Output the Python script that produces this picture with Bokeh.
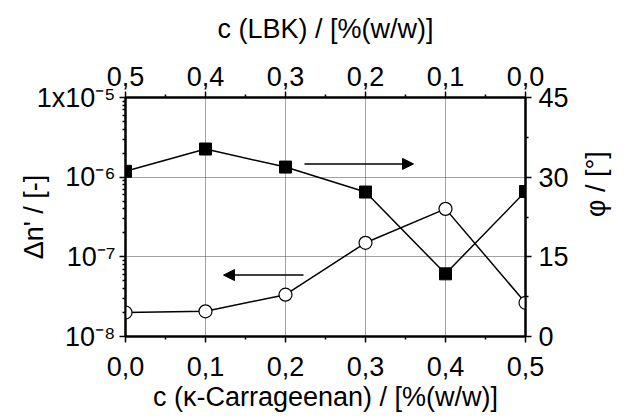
import math
from bokeh.plotting import figure
from bokeh.models import Range1d, LinearAxis, FixedTicker, Arrow, NormalHead, ColumnDataSource, LinearScale
from bokeh.embed import file_html
from bokeh.resources import INLINE

# data
conc_carrageenan = [0.0, 0.1, 0.2, 0.3, 0.4, 0.5]
delta_n = [2.0e-8, 2.07e-8, 3.35e-8, 1.5e-7, 4.0e-7, 2.65e-8]
phi_deg = [31.1, 35.3, 31.9, 27.2, 11.8, 27.3]

x_ticks = [0.0, 0.1, 0.2, 0.3, 0.4, 0.5]
x_tick_labels = ["0,0", "0,1", "0,2", "0,3", "0,4", "0,5"]
top_tick_labels = ["0,0", "0,1", "0,2", "0,3", "0,4", "0,5"]  # LBK, reversed axis
left_ticks = [1e-8, 1e-7, 1e-6, 1e-5]
left_tick_labels = ["10\u207b\u2078", "10\u207b\u2077", "10\u207b\u2076", "1x10\u207b\u2075"]
right_ticks = [0, 15, 30, 45]
right_tick_labels = ["0", "15", "30", "45"]

# arrows (start x, end x, y)
arrow_left = (0.2225, 0.1225, 5.9e-8)
arrow_right = (0.2237, 0.36, 32.5)

FONT = "Liberation Sans"
TICK_SIZE = "27px"
LABEL_SIZE = "27px"

p = figure(frame_width=400, frame_height=239, x_range=Range1d(0, 0.5), y_range=Range1d(1e-8, 1e-5),
           y_axis_type="log", output_backend="svg", toolbar_location=None,
           min_border_left=125, min_border_right=0, min_border_top=97, min_border_bottom=0)
p.extra_x_ranges = {"lbk": Range1d(0.5, 0.0)}
p.extra_x_scales = {"lbk": LinearScale()}
p.extra_y_ranges = {"phi": Range1d(0, 45)}
p.extra_y_scales = {"phi": LinearScale()}

p.outline_line_color = "black"
p.outline_line_width = 2
p.background_fill_color = "white"
p.border_fill_color = "white"

def style_axis(ax):
    ax.axis_line_width = 2
    ax.major_tick_line_width = 1.5
    ax.minor_tick_line_width = 1.5
    ax.major_tick_out = 6
    ax.major_tick_in = 0
    ax.minor_tick_out = 3
    ax.minor_tick_in = 0
    ax.major_label_standoff = 4
    ax.major_label_text_font = FONT
    ax.major_label_text_font_size = TICK_SIZE
    ax.major_label_text_color = "black"
    ax.axis_label_text_font = FONT
    ax.axis_label_text_font_size = LABEL_SIZE
    ax.axis_label_text_font_style = "normal"
    ax.axis_label_text_color = "black"

# bottom
xb = p.xaxis[0]
xb.ticker = FixedTicker(ticks=x_ticks, minor_ticks=[0.05, 0.15, 0.25, 0.35, 0.45])
xb.major_label_overrides = dict(zip(x_ticks, x_tick_labels))
xb.axis_label = "c (\u03ba-Carrageenan) / [%(w/w)]"
style_axis(xb)
xb.major_label_standoff = 14
xb.axis_label_standoff = 3

# left
yl = p.yaxis[0]
yl.ticker = FixedTicker(ticks=left_ticks,
                        minor_ticks=[m * 10.0 ** e for e in (-8, -7, -6) for m in range(2, 10)])
yl.major_label_overrides = dict(zip(left_ticks, left_tick_labels))
yl.axis_label = "\u0394n' / [-]"
style_axis(yl)
yl.axis_label_standoff = -15

# top
xt = LinearAxis(x_range_name="lbk", axis_label="c (LBK) / [%(w/w)]")
xt.ticker = FixedTicker(ticks=x_ticks, minor_ticks=[0.05, 0.15, 0.25, 0.35, 0.45])
xt.major_label_overrides = dict(zip(x_ticks, top_tick_labels))
style_axis(xt)
xt.major_label_standoff = 6
xt.axis_label_standoff = 20
p.add_layout(xt, "above")

# right
yr = LinearAxis(y_range_name="phi", axis_label="\u03c6 / [\u00b0]")
yr.ticker = FixedTicker(ticks=right_ticks, minor_ticks=[7.5, 22.5, 37.5])
yr.major_label_overrides = dict(zip(right_ticks, right_tick_labels))
style_axis(yr)
yr.major_label_standoff = 7
yr.axis_label_standoff = 24
yr.axis_label_orientation = math.pi / 2
p.add_layout(yr, "right")

# grids
p.xgrid.ticker = FixedTicker(ticks=[0.1, 0.2, 0.3, 0.4])
p.ygrid.ticker = FixedTicker(ticks=[1e-7, 1e-6])
for g in (p.xgrid[0], p.ygrid[0]):
    g.grid_line_color = "#444444"
    g.grid_line_dash = "1 1"
    g.grid_line_width = 1
p.ygrid.minor_grid_line_color = None

src = ColumnDataSource(dict(x=conc_carrageenan, dn=delta_n, phi=phi_deg))

p.line("x", "dn", source=src, line_color="black", line_width=1.5)
p.scatter("x", "dn", source=src, marker="circle", size=13, fill_color="white",
          line_color="black", line_width=1.2)

p.line("x", "phi", source=src, y_range_name="phi", line_color="black", line_width=1.5)
p.scatter("x", "phi", source=src, y_range_name="phi", marker="square", size=12,
          fill_color="black", line_color="black")

p.add_layout(Arrow(end=NormalHead(size=11, fill_color="black", line_color="black"),
                   x_start=arrow_left[0], x_end=arrow_left[1],
                   y_start=arrow_left[2], y_end=arrow_left[2],
                   line_width=1.5, line_color="black"))
p.add_layout(Arrow(end=NormalHead(size=11, fill_color="black", line_color="black"),
                   x_start=arrow_right[0], x_end=arrow_right[1],
                   y_start=arrow_right[2], y_end=arrow_right[2],
                   y_range_name="phi", line_width=1.5, line_color="black"))

open("out.html", "w").write(file_html(p, INLINE))
